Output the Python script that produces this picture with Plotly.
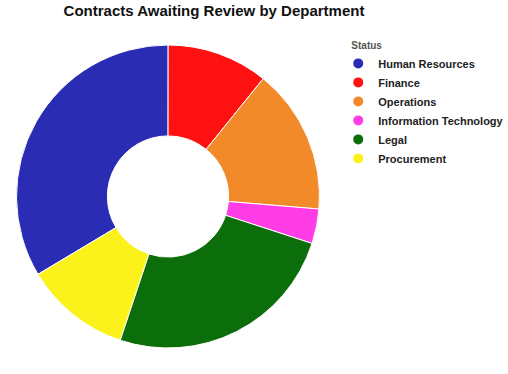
import plotly.graph_objects as go

departments = ["Human Resources", "Finance", "Operations", "Information Technology", "Legal", "Procurement"]
contracts = [33.6, 10.8, 15.5, 3.7, 25.1, 11.3]
colors = ["#2A2CB4", "#FF1111", "#F28A2A", "#FF3CE6", "#0B6E0B", "#FAF21A"]

fig = go.Figure()
fig.add_trace(go.Pie(
    labels=departments,
    values=contracts,
    hole=0.4,
    sort=False,
    direction="clockwise",
    rotation=239.1,
    marker=dict(colors=colors, line=dict(color="white", width=1)),
    textinfo="none",
    hoverinfo="label+value+percent",
    showlegend=False,
))

for name, col in zip(departments, colors):
    fig.add_trace(go.Scatter(
        x=[None], y=[None], mode="markers", name=name,
        marker=dict(color=col, size=10, symbol="circle"),
        hoverinfo="skip",
    ))

fig.update_layout(
    width=508, height=374,
    margin=dict(l=16, r=188, t=45, b=26, autoexpand=False),
    paper_bgcolor="white", plot_bgcolor="white",
    font=dict(family="Liberation Sans, Arial, sans-serif", color="#222"),
    title=dict(
        text="Contracts Awaiting Review by Department",
        font=dict(size=15, color="#111", weight="bold"),
        x=214 / 508, xanchor="center", xref="container",
        y=1 - 11 / 374, yanchor="middle", yref="container",
    ),
    xaxis=dict(visible=False),
    yaxis=dict(visible=False),
    legend=dict(
        title=dict(text="\u00a0\u00a0\u00a0\u00a0Status", font=dict(size=10, color="#555")),
        font=dict(size=11, color="#222", weight="bold"),
        x=1.06, xanchor="left", y=1.03, yanchor="top",
        bgcolor="rgba(0,0,0,0)", borderwidth=0,
        itemclick=False, itemdoubleclick=False,
        tracegroupgap=0,
    ),
)

fig.write_html(
    "out.html",
    config={"displayModeBar": False},
    post_script="document.body.style.margin='0';document.body.style.overflow='hidden';",
)
